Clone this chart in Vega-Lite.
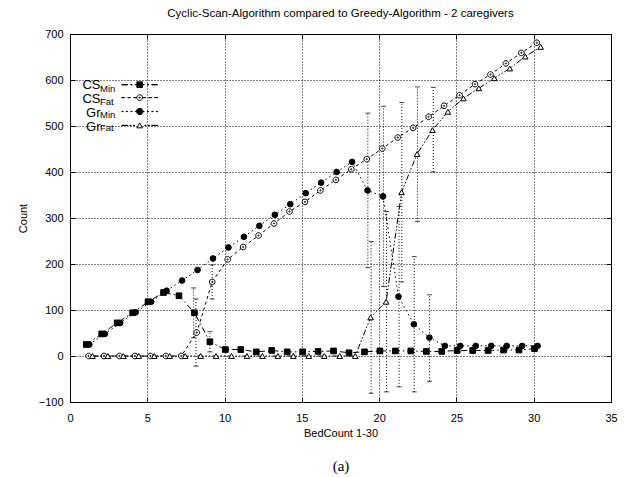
{
  "$schema": "https://vega.github.io/schema/vega-lite/v6.json",
  "autosize": {"type": "none"},
  "padding": {"left": 70, "top": 34, "right": 18, "bottom": 75},
  "width": 541,
  "height": 368,
  "title": {"text": "Cyclic-Scan-Algorithm compared to Greedy-Algorithm - 2 caregivers", "font": "Liberation Sans", "fontSize": 11.5, "fontWeight": "normal", "color": "#000", "anchor": "middle", "offset": 9},
  "config": {
    "font": "Liberation Sans",
    "view": {"stroke": "#000", "strokeWidth": 1},
    "axis": {"labelFont": "Liberation Sans", "labelFontSize": 11, "labelColor": "#000", "titleFont": "Liberation Sans", "titleFontSize": 11, "titleFontWeight": "normal", "titleColor": "#000", "domainColor": "#000", "tickColor": "#000", "labelFlush": false}
  },
  "datasets": {
    "pts": [
      {"s": "CS_Min", "x": 1.05, "y": 25}, {"s": "CS_Min", "x": 2.05, "y": 48}, {"s": "CS_Min", "x": 3.05, "y": 72}, {"s": "CS_Min", "x": 4.05, "y": 94}, {"s": "CS_Min", "x": 5.05, "y": 118},
      {"s": "CS_Min", "x": 6.05, "y": 138}, {"s": "CS_Min", "x": 7.05, "y": 131}, {"s": "CS_Min", "x": 8.05, "y": 94}, {"s": "CS_Min", "x": 9.05, "y": 31}, {"s": "CS_Min", "x": 10.05, "y": 14},
      {"s": "CS_Min", "x": 11.05, "y": 14}, {"s": "CS_Min", "x": 12.05, "y": 9}, {"s": "CS_Min", "x": 13.05, "y": 12}, {"s": "CS_Min", "x": 14.05, "y": 9}, {"s": "CS_Min", "x": 15.05, "y": 9},
      {"s": "CS_Min", "x": 16.05, "y": 10}, {"s": "CS_Min", "x": 17.05, "y": 11}, {"s": "CS_Min", "x": 18.05, "y": 7}, {"s": "CS_Min", "x": 19.05, "y": 9}, {"s": "CS_Min", "x": 20.05, "y": 11},
      {"s": "CS_Min", "x": 21.05, "y": 11}, {"s": "CS_Min", "x": 22.05, "y": 11}, {"s": "CS_Min", "x": 23.05, "y": 10}, {"s": "CS_Min", "x": 24.05, "y": 10}, {"s": "CS_Min", "x": 25.05, "y": 12},
      {"s": "CS_Min", "x": 26.05, "y": 12}, {"s": "CS_Min", "x": 27.05, "y": 12}, {"s": "CS_Min", "x": 28.05, "y": 13}, {"s": "CS_Min", "x": 29.05, "y": 13}, {"s": "CS_Min", "x": 30.05, "y": 16},
      {"s": "CS_Fat", "x": 1.2, "y": 0}, {"s": "CS_Fat", "x": 2.2, "y": 0}, {"s": "CS_Fat", "x": 3.2, "y": 0}, {"s": "CS_Fat", "x": 4.2, "y": 0}, {"s": "CS_Fat", "x": 5.2, "y": 0},
      {"s": "CS_Fat", "x": 6.2, "y": 0}, {"s": "CS_Fat", "x": 7.2, "y": 0}, {"s": "CS_Fat", "x": 8.2, "y": 51}, {"s": "CS_Fat", "x": 9.2, "y": 161}, {"s": "CS_Fat", "x": 10.2, "y": 210},
      {"s": "CS_Fat", "x": 11.2, "y": 237}, {"s": "CS_Fat", "x": 12.2, "y": 262}, {"s": "CS_Fat", "x": 13.2, "y": 288}, {"s": "CS_Fat", "x": 14.2, "y": 314}, {"s": "CS_Fat", "x": 15.2, "y": 335},
      {"s": "CS_Fat", "x": 16.2, "y": 360}, {"s": "CS_Fat", "x": 17.2, "y": 383}, {"s": "CS_Fat", "x": 18.2, "y": 406}, {"s": "CS_Fat", "x": 19.2, "y": 428}, {"s": "CS_Fat", "x": 20.2, "y": 451},
      {"s": "CS_Fat", "x": 21.2, "y": 475}, {"s": "CS_Fat", "x": 22.2, "y": 496}, {"s": "CS_Fat", "x": 23.2, "y": 520}, {"s": "CS_Fat", "x": 24.2, "y": 544}, {"s": "CS_Fat", "x": 25.2, "y": 567},
      {"s": "CS_Fat", "x": 26.2, "y": 591}, {"s": "CS_Fat", "x": 27.2, "y": 612}, {"s": "CS_Fat", "x": 28.2, "y": 636}, {"s": "CS_Fat", "x": 29.2, "y": 659}, {"s": "CS_Fat", "x": 30.2, "y": 681},
      {"s": "Gr_Min", "x": 1.25, "y": 25}, {"s": "Gr_Min", "x": 2.25, "y": 48}, {"s": "Gr_Min", "x": 3.25, "y": 72}, {"s": "Gr_Min", "x": 4.25, "y": 95}, {"s": "Gr_Min", "x": 5.25, "y": 118},
      {"s": "Gr_Min", "x": 6.25, "y": 142}, {"s": "Gr_Min", "x": 7.25, "y": 164}, {"s": "Gr_Min", "x": 8.25, "y": 187}, {"s": "Gr_Min", "x": 9.25, "y": 212}, {"s": "Gr_Min", "x": 10.25, "y": 236},
      {"s": "Gr_Min", "x": 11.25, "y": 259}, {"s": "Gr_Min", "x": 12.25, "y": 283}, {"s": "Gr_Min", "x": 13.25, "y": 307}, {"s": "Gr_Min", "x": 14.25, "y": 330}, {"s": "Gr_Min", "x": 15.25, "y": 354},
      {"s": "Gr_Min", "x": 16.25, "y": 377}, {"s": "Gr_Min", "x": 17.25, "y": 400}, {"s": "Gr_Min", "x": 18.25, "y": 422}, {"s": "Gr_Min", "x": 19.25, "y": 360}, {"s": "Gr_Min", "x": 20.25, "y": 347},
      {"s": "Gr_Min", "x": 21.25, "y": 129}, {"s": "Gr_Min", "x": 22.25, "y": 69}, {"s": "Gr_Min", "x": 23.25, "y": 40}, {"s": "Gr_Min", "x": 24.25, "y": 22}, {"s": "Gr_Min", "x": 25.25, "y": 22},
      {"s": "Gr_Min", "x": 26.25, "y": 22}, {"s": "Gr_Min", "x": 27.25, "y": 22}, {"s": "Gr_Min", "x": 28.25, "y": 22}, {"s": "Gr_Min", "x": 29.25, "y": 22}, {"s": "Gr_Min", "x": 30.25, "y": 22},
      {"s": "Gr_Fat", "x": 1.45, "y": 0}, {"s": "Gr_Fat", "x": 2.45, "y": 0}, {"s": "Gr_Fat", "x": 3.45, "y": 0}, {"s": "Gr_Fat", "x": 4.45, "y": 0}, {"s": "Gr_Fat", "x": 5.45, "y": 0},
      {"s": "Gr_Fat", "x": 6.45, "y": 0}, {"s": "Gr_Fat", "x": 7.45, "y": 0}, {"s": "Gr_Fat", "x": 8.45, "y": 0}, {"s": "Gr_Fat", "x": 9.45, "y": 0}, {"s": "Gr_Fat", "x": 10.45, "y": 0},
      {"s": "Gr_Fat", "x": 11.45, "y": 0}, {"s": "Gr_Fat", "x": 12.45, "y": 0}, {"s": "Gr_Fat", "x": 13.45, "y": 0}, {"s": "Gr_Fat", "x": 14.45, "y": 0}, {"s": "Gr_Fat", "x": 15.45, "y": 0},
      {"s": "Gr_Fat", "x": 16.45, "y": 0}, {"s": "Gr_Fat", "x": 17.45, "y": 0}, {"s": "Gr_Fat", "x": 18.45, "y": 0}, {"s": "Gr_Fat", "x": 19.45, "y": 84}, {"s": "Gr_Fat", "x": 20.45, "y": 118},
      {"s": "Gr_Fat", "x": 21.45, "y": 356}, {"s": "Gr_Fat", "x": 22.45, "y": 439}, {"s": "Gr_Fat", "x": 23.45, "y": 491}, {"s": "Gr_Fat", "x": 24.45, "y": 531}, {"s": "Gr_Fat", "x": 25.45, "y": 560},
      {"s": "Gr_Fat", "x": 26.45, "y": 582}, {"s": "Gr_Fat", "x": 27.45, "y": 604}, {"s": "Gr_Fat", "x": 28.45, "y": 625}, {"s": "Gr_Fat", "x": 29.45, "y": 651}, {"s": "Gr_Fat", "x": 30.45, "y": 672}
    ],
    "err": [
      {"x": 8.0, "lo": 40, "hi": 148}, {"x": 8.15, "lo": -22, "hi": 124},
      {"x": 9.05, "lo": 9, "hi": 53}, {"x": 9.2, "lo": 124, "hi": 198},
      {"x": 19.27, "lo": 192, "hi": 528}, {"x": 19.48, "lo": -81, "hi": 249},
      {"x": 20.28, "lo": 151, "hi": 543}, {"x": 20.48, "lo": -78, "hi": 314},
      {"x": 21.29, "lo": -67, "hi": 325}, {"x": 21.47, "lo": 161, "hi": 551},
      {"x": 22.27, "lo": -78, "hi": 216}, {"x": 22.48, "lo": 292, "hi": 585},
      {"x": 23.26, "lo": -55, "hi": 133}, {"x": 23.5, "lo": 400, "hi": 584}
    ]
  },
  "resolve": {
    "scale": {"strokeDash": "independent", "shape": "independent", "fill": "independent", "stroke": "independent"},
    "axis": {"x": "independent", "y": "independent"},
    "legend": {"strokeDash": "independent", "shape": "independent", "fill": "independent", "stroke": "independent"}
  },
  "layer": [
    {
      "data": {"name": "pts"},
      "mark": {"type": "line", "color": "#000", "strokeWidth": 1},
      "encoding": {
        "x": {"field": "x", "type": "quantitative", "scale": {"domain": [0, 35], "nice": false, "zero": false},
              "axis": {"orient": "bottom", "values": [0, 5, 10, 15, 20, 25, 30, 35], "title": "BedCount 1-30", "grid": true, "gridDash": [1, 2], "gridColor": "#000", "gridOpacity": 1, "gridWidth": 1, "ticks": true, "tickSize": -5, "labelPadding": 15, "titlePadding": 4}},
        "y": {"field": "y", "type": "quantitative", "scale": {"domain": [-100, 700], "nice": false},
              "axis": {"orient": "left", "values": [-100, 0, 100, 200, 300, 400, 500, 600, 700], "title": "Count", "grid": true, "gridDash": [1, 2], "gridColor": "#000", "gridOpacity": 1, "gridWidth": 1, "ticks": true, "tickSize": -5, "labelPadding": 12, "titlePadding": 10}},
        "strokeDash": {"field": "s", "type": "nominal", "scale": {"domain": ["CS_Min", "CS_Fat", "Gr_Min", "Gr_Fat"], "range": [[6, 3, 1.5, 3], [3, 3], [1.5, 3], [6, 2, 1.5, 2, 1.5, 2]]}, "legend": null}
      }
    },
    {
      "data": {"name": "err"},
      "mark": {"type": "errorbar", "ticks": {"size": 5, "color": "#000", "strokeWidth": 1}, "rule": {"strokeDash": [1, 2], "color": "#000", "strokeWidth": 1}},
      "encoding": {
        "x": {"field": "x", "type": "quantitative",
              "axis": {"orient": "bottom", "labels": false, "ticks": false, "domain": false, "grid": false, "title": "(a)", "titleFont": "Liberation Serif", "titleFontSize": 15, "titlePadding": 56}},
        "y": {"field": "lo", "type": "quantitative", "axis": null},
        "y2": {"field": "hi"}
      }
    },
    {
      "data": {"name": "pts"},
      "mark": {"type": "point", "stroke": "#000", "strokeWidth": 1, "size": 32, "opacity": 1},
      "encoding": {
        "x": {"field": "x", "type": "quantitative", "axis": {"orient": "top", "values": [0, 5, 10, 15, 20, 25, 30, 35], "labels": false, "grid": false, "domain": false, "ticks": true, "tickSize": -5, "title": null}},
        "y": {"field": "y", "type": "quantitative", "axis": {"orient": "right", "values": [-100, 0, 100, 200, 300, 400, 500, 600, 700], "labels": false, "grid": false, "domain": false, "ticks": true, "tickSize": -5, "title": null}},
        "shape": {"field": "s", "type": "nominal", "scale": {"domain": ["CS_Min", "CS_Fat", "Gr_Min", "Gr_Fat"], "range": ["square", "M1,0A1,1,0,1,1,-1,0A1,1,0,1,1,1,0Z M0.22,0A0.22,0.22,0,1,1,-0.22,0A0.22,0.22,0,1,1,0.22,0Z", "circle", "triangle-up"]}, "legend": null},
        "fill": {"field": "s", "type": "nominal", "scale": {"domain": ["CS_Min", "CS_Fat", "Gr_Min", "Gr_Fat"], "range": ["#000", "#fff", "#000", "#fff"]}, "legend": null}
      }
    },
    {
      "data": {"values": []},
      "mark": {"type": "point", "strokeWidth": 1, "filled": false, "opacity": 1},
      "encoding": {
        "strokeDash": {"field": "la", "type": "nominal", "scale": {"domain": ["CS_Min", "CS_Fat", "Gr_Min", "Gr_Fat"], "range": [[6, 3, 1.5, 3], [3, 3], [1.5, 3], [6, 2, 1.5, 2, 1.5, 2]]},
          "legend": {"orient": "none", "legendX": 64.5, "legendY": 44.6, "title": null, "padding": 0, "symbolSize": 36, "symbolType": "M-6,0H6", "symbolStrokeWidth": 1, "symbolOpacity": 0, "symbolOffset": 0, "labelExpr": "split(datum.label, '_')[0]", "labelAlign": "right", "labelOffset": -47, "labelFontSize": 13, "labelFont": "Liberation Sans", "labelColor": "#000", "clipHeight": 12.7, "rowPadding": 0}},
        "stroke": {"field": "la", "type": "nominal", "scale": {"domain": ["CS_Min", "CS_Fat", "Gr_Min", "Gr_Fat"], "range": ["#000", "#000", "#000", "#000"]},
          "legend": {"orient": "none", "legendX": 64.5, "legendY": 44.6, "title": null, "padding": 0, "symbolSize": 36, "symbolType": "M-6,0H6", "symbolStrokeWidth": 1, "symbolOpacity": 0, "symbolOffset": 0, "labelExpr": "split(datum.label, '_')[0]", "labelAlign": "right", "labelOffset": -47, "labelFontSize": 13, "labelFont": "Liberation Sans", "labelColor": "#000", "clipHeight": 12.7, "rowPadding": 0}}
      }
    },
    {
      "data": {"values": []},
      "mark": {"type": "point", "strokeWidth": 1, "opacity": 1},
      "encoding": {
        "shape": {"field": "lb", "type": "nominal", "scale": {"domain": ["b1", "b2", "b3", "b4"], "range": [
            "M-6.36,-0.04H-4.24V0.04H-6.36Z M-3.18,-0.04H-2.65V0.04H-3.18Z M-1.59,-0.04H-1.1V0.04H-1.59Z M1.1,-0.04H1.59V0.04H1.1Z M2.65,-0.04H3.18V0.04H2.65Z M4.24,-0.04H6.36V0.04H4.24Z M-1,-1H1V1H-1Z",
            "M-6.36,-0.04H-5.3V0.04H-6.36Z M-4.24,-0.04H-3.18V0.04H-4.24Z M-2.12,-0.04H-1.1V0.04H-2.12Z M1.1,-0.04H2.12V0.04H1.1Z M3.18,-0.04H4.24V0.04H3.18Z M5.3,-0.04H6.36V0.04H5.3Z M1,0A1,1,0,1,1,-1,0A1,1,0,1,1,1,0Z M0.22,0A0.22,0.22,0,1,1,-0.22,0A0.22,0.22,0,1,1,0.22,0Z",
            "M-6.36,-0.04H-5.83V0.04H-6.36Z M-4.77,-0.04H-4.24V0.04H-4.77Z M-3.18,-0.04H-2.65V0.04H-3.18Z M-1.59,-0.04H-1.2V0.04H-1.59Z M1.2,-0.04H1.59V0.04H1.2Z M2.65,-0.04H3.18V0.04H2.65Z M4.24,-0.04H4.77V0.04H4.24Z M5.83,-0.04H6.36V0.04H5.83Z M1.13,0A1.13,1.13,0,1,1,-1.13,0A1.13,1.13,0,1,1,1.13,0Z",
            "M-6.36,-0.04H-4.24V0.04H-6.36Z M-3.53,-0.04H-3V0.04H-3.53Z M-2.29,-0.04H-1.76V0.04H-2.29Z M1.76,-0.04H2.29V0.04H1.76Z M3,-0.04H3.53V0.04H3Z M4.24,-0.04H6.36V0.04H4.24Z M0,-0.866L-1,0.866H1Z"]},
          "legend": {"orient": "none", "legendX": 64.7, "legendY": 45.7, "title": null, "padding": 0, "symbolSize": 32, "symbolStrokeWidth": 1, "symbolOffset": 0, "labelExpr": "''", "rowPadding": 2.9}},
        "fill": {"field": "lb", "type": "nominal", "scale": {"domain": ["b1", "b2", "b3", "b4"], "range": ["#000", "#fff", "#000", "#fff"]},
          "legend": {"orient": "none", "legendX": 64.7, "legendY": 45.7, "title": null, "padding": 0, "symbolSize": 32, "symbolStrokeWidth": 1, "symbolOffset": 0, "labelExpr": "''", "rowPadding": 2.9}},
        "stroke": {"field": "lb", "type": "nominal", "scale": {"domain": ["b1", "b2", "b3", "b4"], "range": ["#000", "#000", "#000", "#000"]},
          "legend": {"orient": "none", "legendX": 64.7, "legendY": 45.7, "title": null, "padding": 0, "symbolSize": 32, "symbolStrokeWidth": 1, "symbolOffset": 0, "labelExpr": "''", "rowPadding": 2.9}}
      }
    },
    {
      "data": {"values": []},
      "mark": {"type": "point", "opacity": 1},
      "encoding": {
        "stroke": {"field": "lc", "type": "nominal", "scale": {"domain": ["Min1", "Fat1", "Min2", "Fat2"], "range": ["#000", "#000", "#000", "#000"]},
          "legend": {"orient": "none", "legendX": 20.5, "legendY": 48.6, "title": null, "padding": 0, "symbolSize": 1, "symbolOpacity": 0, "symbolOffset": 0, "labelExpr": "slice(datum.label, 0, 3)", "labelAlign": "left", "labelOffset": 0, "labelFontSize": 9.5, "labelFont": "Liberation Sans", "labelColor": "#000", "clipHeight": 12.7, "rowPadding": 0}}
      }
    }
  ]
}
